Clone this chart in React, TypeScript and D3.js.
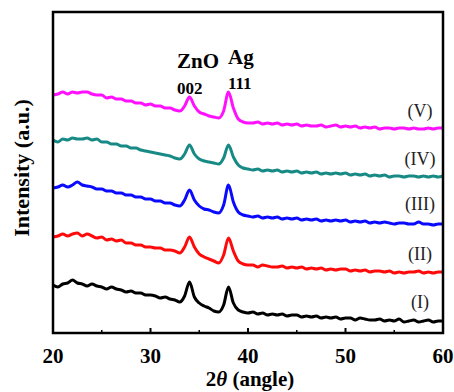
import * as d3 from "d3";

// 2theta sampled every 0.5 degree from 20 to 60
const twoTheta = d3.range(20, 60.001, 0.5);

// intensities (a.u.), already offset per sample
const sampleI = [
  48, 46, 49, 50, 53, 50, 49, 47, 49, 47, 46, 44, 46, 44, 43, 41, 42, 40, 40, 38,
  38, 37, 35, 36, 34, 33, 31, 37, 51, 36, 30, 27, 25, 22, 21, 28, 46, 30, 23, 21,
  20, 21, 19, 20, 18, 19, 18, 19, 17, 18, 18, 16, 17, 16, 17, 15, 16, 15, 16, 14,
  15, 15, 13, 15, 14, 13, 13, 14, 12, 13, 12, 14, 11, 12, 13, 11, 12, 13, 11, 12, 12,
];
const sampleII = [
  96, 97, 99, 97, 99, 100, 97, 99, 97, 95, 96, 93, 94, 92, 93, 90, 90, 88, 88, 86,
  86, 85, 85, 83, 83, 82, 80, 86, 96, 86, 79, 76, 74, 72, 70, 78, 95, 82, 72, 69,
  68, 68, 66, 68, 67, 66, 66, 67, 65, 66, 65, 66, 64, 65, 64, 65, 63, 64, 63, 64,
  64, 62, 63, 62, 63, 61, 62, 62, 61, 62, 60, 61, 60, 61, 61, 62, 60, 61, 60, 61, 61,
];
const sampleIII = [
  145, 146, 148, 146, 148, 151, 148, 147, 146, 144, 144, 142, 142, 140, 140, 138, 138, 136, 136, 134,
  134, 132, 132, 130, 130, 128, 127, 133, 143, 133, 127, 124, 123, 121, 120, 128, 148, 131, 121, 118,
  117, 116, 117, 115, 116, 115, 116, 114, 115, 114, 115, 113, 114, 113, 114, 112, 113, 112, 113, 112,
  113, 111, 112, 111, 112, 110, 111, 110, 111, 110, 109, 110, 110, 109, 109, 111, 109, 109, 108, 109, 109,
];
const sampleIV = [
  193, 191, 194, 193, 195, 194, 194, 195, 193, 194, 191, 191, 189, 189, 187, 187, 185, 185, 183, 182,
  181, 180, 179, 178, 177, 175, 174, 179, 188, 179, 174, 172, 171, 170, 169, 175, 188, 176, 168, 165,
  164, 163, 164, 162, 163, 162, 163, 161, 162, 161, 162, 160, 161, 160, 161, 159, 160, 159, 160, 159,
  160, 158, 159, 158, 159, 157, 158, 157, 158, 156, 157, 157, 156, 157, 157, 156, 157, 156, 157, 156, 157,
];
const sampleV = [
  238, 239, 241, 239, 241, 240, 241, 241, 239, 238, 238, 235, 236, 234, 234, 232, 232, 230, 230, 228,
  229, 227, 227, 225, 225, 223, 222, 227, 236, 227, 221, 219, 217, 216, 215, 222, 241, 225, 214, 211,
  210, 210, 211, 209, 210, 209, 210, 208, 209, 208, 209, 207, 208, 207, 207, 208, 206, 207, 208, 206,
  207, 206, 207, 205, 206, 205, 206, 204, 205, 205, 204, 205, 205, 204, 205, 204, 204, 205, 204, 205, 205,
];

const seriesNames = ["(I)", "(II)", "(III)", "(IV)", "(V)"];
const seriesValues = [sampleI, sampleII, sampleIII, sampleIV, sampleV];
const seriesColors = ["#000000", "#ff0a0a", "#0a0aff", "#178a85", "#ff10ff"];
const labelValues = [25, 73, 123, 168, 216];

const xTicks = [20, 30, 40, 50, 60];
const xMinorTicks = [25, 35, 45, 55];

const W = 454;
const H = 392;
const m = { left: 53, right: 11, top: 12, bottom: 59 };
const serif = "Liberation Serif, Times New Roman, serif";

export default function App() {
  const x = d3.scaleLinear().domain([20, 60]).range([m.left, W - m.right]);
  const y = d3.scaleLinear().domain([0, 321]).range([H - m.bottom, m.top]);

  const line = d3
    .line<number>()
    .x((d, i) => x(twoTheta[i]))
    .y((d) => y(d))
    .curve(d3.curveMonotoneX);

  const txt = { fontFamily: serif };

  return (
    <svg
      width={W}
      height={H}
      style={{ position: "absolute", left: 0, top: 0, background: "#fff" }}
    >
      {seriesValues.map((vals, i) => (
        <path
          key={i}
          d={line(vals) || ""}
          fill="none"
          stroke={seriesColors[i]}
          strokeWidth={3}
          strokeLinejoin="round"
        />
      ))}

      {/* frame */}
      <rect
        x={m.left}
        y={m.top}
        width={W - m.left - m.right}
        height={H - m.top - m.bottom}
        fill="none"
        stroke="#000"
        strokeWidth={2.5}
      />

      {/* x ticks, inward */}
      {xTicks.map((t) => (
        <g key={t}>
          <line x1={x(t)} x2={x(t)} y1={y(0)} y2={y(0) - 5} stroke="#000" strokeWidth={2} />
          <text
            x={x(t)}
            y={363}
            textAnchor="middle"
            fontSize={21}
            fontWeight="bold"
            style={txt}
          >
            {t}
          </text>
        </g>
      ))}
      {xMinorTicks.map((t) => (
        <line key={t} x1={x(t)} x2={x(t)} y1={y(0)} y2={y(0) - 3} stroke="#000" strokeWidth={1.5} />
      ))}

      <text x={250} y={386} textAnchor="middle" fontSize={21} fontWeight="bold" style={txt}>
        2<tspan fontStyle="italic">θ</tspan> (angle)
      </text>

      <text
        transform="translate(29,168) rotate(-90)"
        textAnchor="middle"
        fontSize={22}
        fontWeight="bold"
        style={txt}
      >
        Intensity (a.u.)
      </text>

      {/* peak annotations */}
      <text x={177} y={68} fontSize={21} fontWeight="bold" style={txt}>ZnO</text>
      <text x={228} y={64} fontSize={21} fontWeight="bold" style={txt}>Ag</text>
      <text x={177} y={94} fontSize={17} fontWeight="bold" style={txt}>002</text>
      <text x={228} y={89} fontSize={17} fontWeight="bold" style={txt}>111</text>

      {seriesNames.map((n, i) => (
        <text
          key={n}
          x={420}
          y={y(labelValues[i])}
          textAnchor="middle"
          fontSize={18}
          fill="#222"
          style={txt}
        >
          {n}
        </text>
      ))}
    </svg>
  );
}
